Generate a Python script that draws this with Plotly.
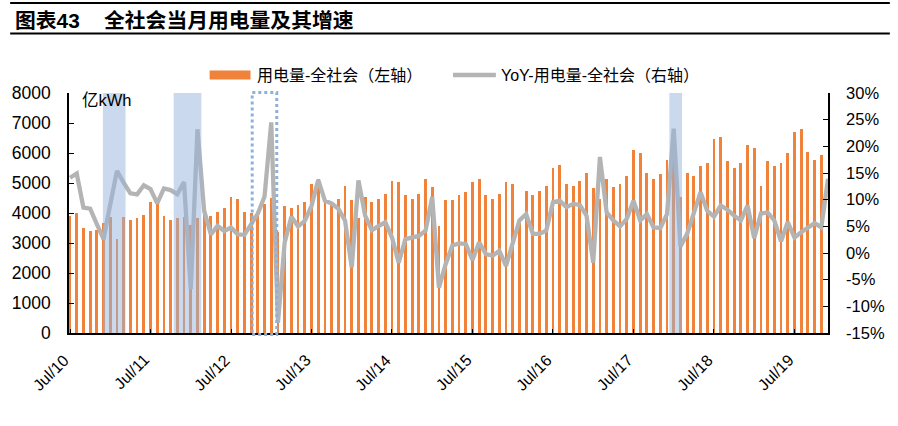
import pandas as pd
import plotly.graph_objects as go

# ---------------- data ----------------
months = list(pd.date_range("2010-07-01", periods=114, freq="MS").strftime("%b/%y"))

consumption = [  # 亿kWh, monthly total electricity consumption
    3900, 3990, 3510, 3400, 3420, 3680, 3880, 3140, 3880, 3770, 3820, 3940,
    4370, 4290, 3890, 3780, 3850, 3870, 3610, 3850, 4150, 3900, 4050, 4160,
    4540, 4480, 4050, 3990, 4050, 4290, 4500, 3370, 4230, 4160, 4270, 4380,
    4960, 5130, 4400, 4380, 4480, 4900, 4430, 3850, 4540, 4380, 4480, 4650,
    5070, 5020, 4590, 4480, 4650, 5130, 4870, 3570, 4430, 4430, 4590, 4700,
    5020, 5130, 4590, 4480, 4650, 5020, 4960, 3800, 4740, 4590, 4740, 4910,
    5500, 5610, 4960, 4910, 5070, 5340, 4850, 4460, 5130, 4870, 4960, 5240,
    6100, 5990, 5340, 5130, 5300, 5780, 5980, 4540, 5340, 5240, 5560, 5660,
    6470, 6520, 5720, 5510, 5660, 6270, 6160, 4910, 5720, 5560, 5660, 5990,
    6690, 6800, 6040, 5780, 5940, None,
]

yoy = [  # %, year-on-year growth
    14.1, 14.9, 8.5, 8.3, 5.4, 2.6, 9.1, 15.4, 13.2, 11.2, 11.0, 12.7,
    12.0, 9.3, 12.1, 11.8, 11.0, 13.3, -6.8, 23.2, 7.9, 3.5, 5.1, 4.1,
    4.8, 3.5, 3.4, 5.6, 7.4, 10.6, 24.5, -13.1, 2.0, 6.8, 5.0, 6.0,
    8.8, 13.7, 9.8, 9.3, 8.3, 6.1, -2.7, 13.6, 7.0, 4.3, 5.1, 5.8,
    2.9, -1.8, 2.6, 2.9, 3.2, 4.2, 10.5, -6.5, -2.1, 1.4, 1.8, 1.7,
    -1.3, 2.0, -0.2, -0.5, 0.4, -2.4, 1.7, 6.1, 7.3, 3.6, 3.6, 4.2,
    9.5, 9.8, 8.6, 9.2, 9.0, 7.0, -1.8, 18.0, 7.6, 6.1, 5.0, 6.4,
    9.8, 6.1, 7.3, 4.8, 4.7, 7.3, 23.3, 1.2, 3.6, 7.3, 11.4, 7.9,
    6.8, 8.9, 8.1, 7.0, 6.1, 8.9, 2.8, 7.4, 7.6, 6.1, 2.2, 5.8,
    2.9, 3.9, 4.8, 5.6, 4.8, 13.9,
]

x_tick_labels = [m for m in months if m.startswith("Jul")]
left_ticks = [0, 1000, 2000, 3000, 4000, 5000, 6000, 7000, 8000]
right_ticks = [-15, -10, -5, 0, 5, 10, 15, 20, 25, 30]
right_tick_text = ["-15%", "-10%", "-5%", "0%", "5%", "10%", "15%", "20%", "25%", "30%"]

bar_name = "用电量-全社会（左轴）"
line_name = "YoY-用电量-全社会（右轴）"
unit_label = "亿kWh"
title_num = "图表43"
title_text = "全社会当月用电量及其增速"

# ---------------- style ----------------
W, H = 898, 426
L, R, T, B = 67, 828, 93, 333        # plot area in page pixels
ORANGE = "#F0823A"
GRAY = "#B4B4B4"
FONT = "Liberation Sans, 'Noto Sans CJK SC', sans-serif"


def px(xp):
    return (xp - L) / (R - L)


def py(yp):
    return (B - yp) / (B - T)


fig = go.Figure()
fig.add_trace(go.Bar(x=months, y=consumption, name=bar_name, marker_color=ORANGE,
                     marker_line_width=0, width=0.42, yaxis="y"))
fig.add_trace(go.Scatter(x=months, y=yoy, name=line_name, mode="lines",
                         line=dict(color=GRAY, width=4.3), yaxis="y2"))

shapes = []
# title rules
for yy in (3, 33.5):
    shapes.append(dict(type="line", xref="paper", yref="paper", x0=px(8), x1=px(890),
                       y0=py(yy), y1=py(yy), line=dict(color="black", width=2.2)))
# shaded periods (month index positions)
for a, b in [(4.9, 8.28), (15.46, 19.58), (89.35, 91.24)]:
    shapes.append(dict(type="rect", xref="x", yref="paper", x0=a, x1=b, y0=0, y1=1,
                       fillcolor="rgb(150,180,220)", opacity=0.5, line=dict(width=0),
                       layer="above"))
# dotted box
shapes.append(dict(type="rect", xref="x", yref="paper", x0=27.16, x1=30.82,
                   y0=py(334.5), y1=py(92.5), line=dict(color="#8EB1DC", width=3, dash="dot"),
                   fillcolor="rgba(0,0,0,0)", layer="above"))
# manual legend symbols
shapes.append(dict(type="rect", xref="paper", yref="paper", x0=px(208), x1=px(249),
                   y0=py(79.5), y1=py(70.5), fillcolor=ORANGE, line=dict(width=0)))
shapes.append(dict(type="line", xref="paper", yref="paper", x0=px(452), x1=px(495),
                   y0=py(75), y1=py(75), line=dict(color=GRAY, width=4.5)))

annotations = [
    dict(text="<b>" + title_num + "</b>", x=px(11), y=py(20), xref="paper", yref="paper",
         xanchor="left", yanchor="middle", showarrow=False, font=dict(size=20.8, color="black")),
    dict(text="<b>" + title_text + "</b>", x=px(100), y=py(20), xref="paper", yref="paper",
         xanchor="left", yanchor="middle", showarrow=False, font=dict(size=20.8, color="black")),
    dict(text=bar_name, x=px(253), y=py(75), xref="paper", yref="paper",
         xanchor="left", yanchor="middle", showarrow=False, font=dict(size=16, color="black")),
    dict(text=line_name, x=px(498), y=py(75), xref="paper", yref="paper",
         xanchor="left", yanchor="middle", showarrow=False, font=dict(size=16, color="black")),
    dict(text=unit_label, x=px(78), y=py(100), xref="paper", yref="paper",
         xanchor="left", yanchor="middle", showarrow=False, font=dict(size=16.5, color="black")),
]
# rotated x tick labels, anchored by their top-right corner just right of each tick
for lab in x_tick_labels:
    annotations.append(dict(text=lab, x=lab, xref="x", y=0, yref="paper", textangle=-45,
                            xanchor="right", yanchor="top", xshift=5, yshift=-15,
                            showarrow=False, font=dict(size=16, color="black")))

fig.update_layout(
    width=W, height=H,
    margin=dict(l=L, r=W - R, t=T, b=H - B, pad=0),
    paper_bgcolor="white", plot_bgcolor="white",
    font=dict(family=FONT, color="black"),
    showlegend=False,
    bargap=0,
    shapes=shapes,
    annotations=annotations,
    xaxis=dict(type="category", range=[-0.15, 113], tickmode="array",
               tickvals=x_tick_labels, showticklabels=False,
               ticks="inside", ticklen=4, tickcolor="black", tickwidth=1.2,
               showline=True, linecolor="black", linewidth=1.5, showgrid=False),
    yaxis=dict(range=[0, 8000], tickmode="array", tickvals=left_ticks,
               ticks="inside", ticklen=5, tickcolor="black", tickwidth=1.2,
               showline=True, linecolor="black", linewidth=1.5, showgrid=False,
               zeroline=False, tickfont=dict(size=17.5), ticklabelstandoff=13),
    yaxis2=dict(range=[-15, 30], overlaying="y", side="right", tickmode="array",
                tickvals=right_ticks, ticktext=right_tick_text,
                ticks="inside", ticklen=5, tickcolor="black", tickwidth=1.2,
                showline=True, linecolor="black", linewidth=1.5, showgrid=False,
                zeroline=False, tickfont=dict(size=16.5), ticklabelstandoff=13),
)

# place the figure at the page origin so its pixels line up with the window
fig.write_html("out.html", config={"displayModeBar": False},
               post_script="document.body.style.margin='0px';document.body.style.overflow='hidden';")
